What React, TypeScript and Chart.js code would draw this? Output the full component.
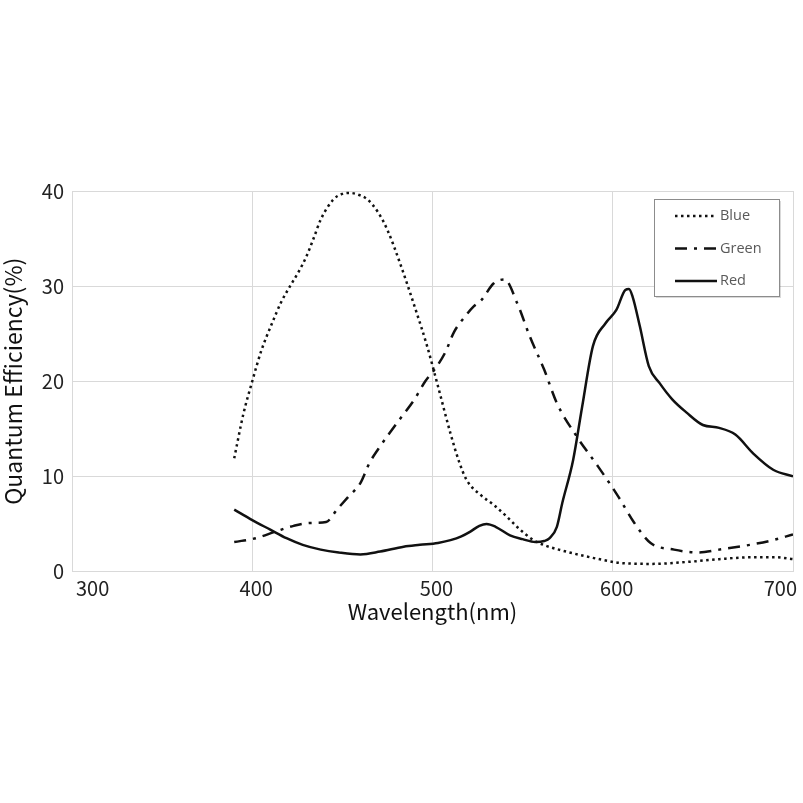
import React, { useEffect, useRef } from "react";
import { Chart, registerables } from "chart.js";

Chart.register(...registerables);

const seriesLabels = ["Blue", "Green", "Red"];

const blueX = [390, 395, 400, 405, 411, 416, 421, 426, 430, 434, 438, 445, 450, 454, 459, 464, 470, 475, 482, 490, 497, 503, 510, 515, 519, 527, 534, 541, 548, 556, 563, 570, 585, 595, 604, 622, 641, 659, 678, 690, 700];
const blueY = [11.9, 16.5, 20.0, 23.2, 26.1, 28.3, 30, 31.6, 33.1, 35, 37, 39.1, 39.7, 39.8, 39.6, 39.1, 37.7, 35.9, 32.4, 27.9, 23.7, 19.5, 14.5, 11.4, 9.6, 8.0, 7.0, 5.8, 4.5, 3.3, 2.7, 2.3, 1.6, 1.2, 0.9, 0.8, 1.0, 1.3, 1.5, 1.5, 1.3];

const greenX = [390, 402, 413, 423, 432, 441, 447, 453, 460, 465, 470, 476, 483, 490, 496, 501, 507, 512, 518, 523, 527, 534, 540, 547, 554, 562, 569, 580, 592, 603, 612, 621, 634, 647, 659, 676, 689, 700];
const greenY = [3.1, 3.5, 4.2, 4.8, 5.1, 5.2, 6.5, 7.8, 9.3, 11.4, 12.9, 14.5, 16.3, 18.1, 20.0, 21.2, 23.0, 25.2, 26.8, 27.9, 28.5, 30.3, 30.7, 28.2, 24.7, 21.2, 17.7, 14.2, 11.0, 7.9, 5.1, 3.0, 2.3, 2.0, 2.3, 2.8, 3.3, 3.9];

const redX = [390, 400, 410, 419, 428, 438, 448, 460, 471, 484, 493, 503, 510, 516, 521, 526, 530, 535, 543, 550, 557, 562, 565, 569, 572, 578, 583, 589, 596, 602, 607, 609, 611, 615, 620, 626, 633, 641, 650, 659, 668, 678, 689, 700];
const redY = [6.5, 5.4, 4.4, 3.5, 2.8, 2.3, 2.0, 1.8, 2.1, 2.6, 2.8, 3.0, 3.3, 3.7, 4.2, 4.8, 5.0, 4.7, 3.8, 3.4, 3.1, 3.2, 3.5, 4.7, 7.2, 11.7, 17.3, 23.7, 26.1, 27.5, 29.6, 29.7, 28.9, 25.8, 21.6, 19.8, 18.1, 16.7, 15.4, 15.1, 14.4, 12.4, 10.7, 10.0];

const xTicks = [300, 400, 500, 600, 700];
const yTicks = [0, 10, 20, 30, 40];

const toPoints = (xs: number[], ys: number[]) => xs.map((x, i) => ({ x, y: ys[i] }));

const legendPlugin = {
  id: "boxLegend",
  afterDraw(chart: any) {
    const ctx = chart.ctx as CanvasRenderingContext2D;
    const x0 = 654, y0 = 199, w = 125, h = 97;
    ctx.save();
    ctx.fillStyle = "rgba(0,0,0,0.15)";
    ctx.fillRect(x0 + 2, y0 + 2, w, h);
    ctx.fillStyle = "#ffffff";
    ctx.fillRect(x0, y0, w, h);
    ctx.strokeStyle = "#8c8c8c";
    ctx.lineWidth = 1;
    ctx.strokeRect(x0 + 0.5, y0 + 0.5, w, h);
    chart.data.datasets.forEach((ds: any, i: number) => {
      const y = 216 + i * 32.5;
      ctx.beginPath();
      ctx.setLineDash(ds.borderDash || []);
      ctx.lineWidth = ds.borderWidth;
      ctx.strokeStyle = ds.borderColor;
      ctx.moveTo(675, y);
      ctx.lineTo(717, y);
      ctx.stroke();
      ctx.setLineDash([]);
      ctx.fillStyle = "#595959";
      ctx.font = '14.5px "Open Sans"';
      ctx.textBaseline = "middle";
      ctx.textAlign = "left";
      ctx.fillText(ds.label, 720, y);
    });
    ctx.restore();
  },
};

export default function App() {
  const ref = useRef<HTMLCanvasElement | null>(null);
  useEffect(() => {
    document.body.style.margin = "0";
    const canvas = ref.current!;
    const fam = '"Noto Sans CJK JP", "Noto Sans", sans-serif';
    const tickFont = { family: fam, size: 20, lineHeight: 1.0 };
    const xTitleFont = { family: fam, size: 22, lineHeight: 1.0 };
    const yTitleFont = { family: fam, size: 23, lineHeight: 1.0 };
    const chart = new Chart(canvas, {
      type: "line",
      data: {
        datasets: [
          {
            label: seriesLabels[0],
            data: toPoints(blueX, blueY),
            borderColor: "#111111",
            borderWidth: 2.5,
            borderDash: [2.5, 3.5],
            pointRadius: 0,
            cubicInterpolationMode: "monotone",
            fill: false,
          },
          {
            label: seriesLabels[1],
            data: toPoints(greenX, greenY),
            borderColor: "#111111",
            borderWidth: 2.5,
            borderDash: [12, 7, 3, 7],
            pointRadius: 0,
            cubicInterpolationMode: "monotone",
            fill: false,
          },
          {
            label: seriesLabels[2],
            data: toPoints(redX, redY),
            borderColor: "#111111",
            borderWidth: 2.5,
            pointRadius: 0,
            cubicInterpolationMode: "monotone",
            fill: false,
          },
        ],
      },
      options: {
        responsive: false,
        animation: false,
        layout: { padding: { top: 191, right: 10, bottom: 180.5, left: 0 } },
        plugins: { legend: { display: false }, tooltip: { enabled: false } },
        scales: {
          x: {
            type: "linear",
            min: 300,
            max: 700,
            afterBuildTicks: (scale: any) => {
              scale.ticks = xTicks.map((v) => ({ value: v }));
            },
            ticks: { color: "#222", font: tickFont, padding: 7, align: "inner", maxRotation: 0, labelOffset: 4 },
            grid: { color: "#d9d9d9", drawTicks: false, lineWidth: 1 },
            border: { color: "#d9d9d9" },
            title: { display: true, text: "Wavelength(nm)", color: "#111", font: xTitleFont, padding: { top: -5, bottom: 0 } },
          },
          y: {
            type: "linear",
            min: 0,
            max: 40,
            afterBuildTicks: (scale: any) => {
              scale.ticks = yTicks.map((v) => ({ value: v }));
            },
            afterFit: (scale: any) => {
              scale.width = 72;
            },
            ticks: { color: "#222", font: tickFont, padding: 8 },
            grid: { color: "#d9d9d9", drawTicks: false, lineWidth: 1 },
            border: { color: "#d9d9d9" },
            title: { display: true, text: "Quantum Efficiency(%)", color: "#111", font: yTitleFont, padding: { top: 2, bottom: 0 } },
          },
        },
      },
      plugins: [legendPlugin],
    } as any);
    return () => chart.destroy();
  }, []);
  return (
    <div style={{ position: "absolute", left: 0, top: 0, width: 803, height: 803, background: "#fff" }}>
      <canvas ref={ref} width={803} height={803} style={{ width: 803, height: 803 }} />
    </div>
  );
}
